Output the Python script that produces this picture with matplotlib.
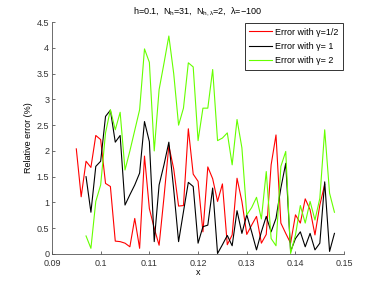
import numpy as np
import matplotlib
matplotlib.use("Agg")
import matplotlib.pyplot as plt

plt.rcParams['font.family'] = ['Liberation Sans', 'DejaVu Sans']
plt.rcParams['mathtext.fontset'] = 'custom'
plt.rcParams['mathtext.rm'] = 'Liberation Sans'
plt.rcParams['mathtext.it'] = 'Liberation Sans'

# sample grids (step 0.001)
xRed = np.arange(95, 147) / 1000.0
xBlk = np.arange(97, 149) / 1000.0
xGrn = np.arange(97, 149) / 1000.0

# relative error (%)
errHalf = [2.04, 1.11, 1.80, 1.68, 2.30, 2.22, 1.37, 1.31, 0.25, 0.24,
           0.21, 0.14, 0.69, 0.11, 1.90, 0.88, 0.50, 0.17, 1.10, 2.10,
           1.65, 0.93, 0.94, 2.43, 1.55, 1.41, 0.43, 1.69, 1.46, 1.02,
           1.36, 0.18, 0.37, 1.47, 1.02, 0.38, 0.56, 0.73, 0.21, 0.38,
           1.73, 2.31, 0.60, 0.40, 0.21, 0.76, 0.60, 1.07, 0.86, 0.37,
           0.95, 1.35]
errOne = [1.50, 0.81, 1.70, 1.80, 2.67, 2.79, 2.17, 2.30, 0.95, 1.15,
          1.34, 1.57, 2.57, 2.18, 0.24, 1.34, 1.73, 2.17, 1.25, 0.24,
          0.82, 1.39, 1.31, 0.21, 0.53, 0.56, 1.28, 0.01, 0.18, 0.36,
          0.16, 0.84, 0.40, 0.76, 0.43, 0.08, 0.43, 0.73, 0.43, 0.69,
          1.28, 1.76, 0.05, 0.30, 0.43, 0.14, 0.40, 0.08, 0.21, 1.40,
          0.05, 0.40]
errTwo = [0.35, 0.11, 1.02, 1.34, 2.35, 2.80, 2.41, 2.75, 1.63, 2.00,
          2.40, 2.80, 3.98, 3.72, 2.00, 3.19, 3.70, 4.23, 3.50, 2.50,
          2.83, 3.71, 3.63, 2.20, 2.83, 2.83, 3.58, 2.20, 2.25, 2.35,
          1.73, 2.61, 2.06, 0.76, 0.90, 1.10, 0.68, 1.60, 0.30, 0.16,
          1.70, 1.99, 0.01, 0.37, 0.94, 0.60, 1.02, 0.66, 1.08, 2.41,
          1.18, 0.81]

labels = ['Error with \u03b3=1/2', 'Error with \u03b3= 1', 'Error with \u03b3= 2']
xTicks = [0.09, 0.1, 0.11, 0.12, 0.13, 0.14, 0.15]
xTickLabels = ['0.09', '0.1', '0.11', '0.12', '0.13', '0.14', '0.15']
yTicks = [0, 0.5, 1, 1.5, 2, 2.5, 3, 3.5, 4, 4.5]
yTickLabels = ['0', '0.5', '1', '1.5', '2', '2.5', '3', '3.5', '4', '4.5']

fig = plt.figure(figsize=(3.82, 2.87), dpi=100)
ax = fig.add_axes([0.136, 0.115, 0.765, 0.808])

ax.plot(xRed, errHalf, color='#ff0000', lw=0.8, label=labels[0])
ax.plot(xBlk, errOne, color='#000000', lw=0.8, label=labels[1])
ax.plot(xGrn, errTwo, color='#66ff00', lw=0.8, label=labels[2])

ax.set_xlim(0.09, 0.15)
ax.set_ylim(0, 4.5)
ax.set_xticks(xTicks)
ax.set_xticklabels(xTickLabels)
ax.set_yticks(yTicks)
ax.set_yticklabels(yTickLabels)
ax.tick_params(direction='in', length=2.5, width=0.5, labelsize=6.5,
               colors='#333333', pad=2)
ax.tick_params(axis='x', pad=3.5)
for s in ['top', 'right']:
    ax.spines[s].set_visible(False)
for s in ['left', 'bottom']:
    ax.spines[s].set_linewidth(0.6)
    ax.spines[s].set_color('#555555')

ax.set_xlabel('x', fontsize=6.5, labelpad=0)
ax.set_ylabel('Relative error (%)', fontsize=6.5, labelpad=3)
ax.set_title('h=0.1,  N$_\\mathrm{h}$=31,  N$_{\\mathrm{h},\\lambda}$=2,  \u03bb=\u2212100',
             fontsize=6.5, pad=6)

leg = ax.legend(loc='upper right', fontsize=6.5, borderaxespad=0.1,
                fancybox=False, framealpha=1, edgecolor='#333333',
                handlelength=2.5, handletextpad=0.4, labelspacing=0.6,
                borderpad=0.5)
leg.get_frame().set_linewidth(0.7)

fig.savefig('out.png', dpi=100)
